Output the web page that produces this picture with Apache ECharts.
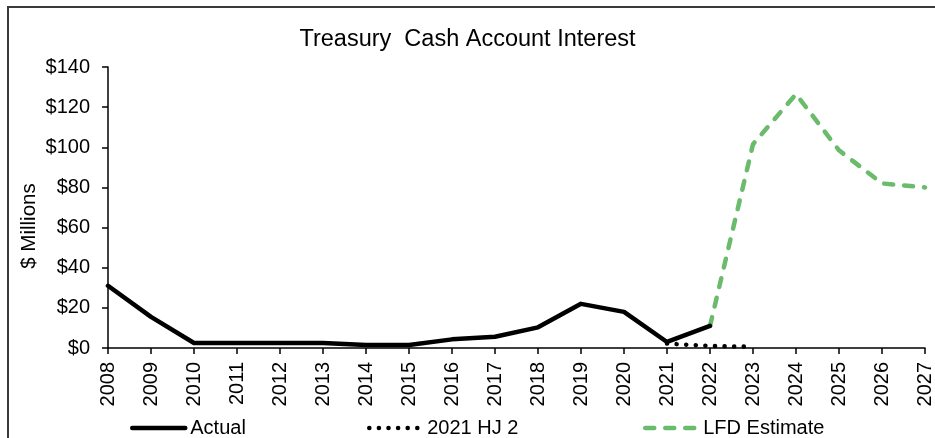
<!DOCTYPE html>
<html>
<head>
<meta charset="utf-8">
<script src="https://cdn.jsdelivr.net/npm/echarts@6/dist/echarts.min.js"></script>
<style>html,body{margin:0;padding:0;background:#fff}#c{width:935px;height:438px}</style>
</head>
<body>
<div id="c"></div>
<script>
var years = ['2008','2009','2010','2011','2012','2013','2014','2015','2016','2017','2018','2019','2020','2021','2022','2023','2024','2025','2026','2027'];
var actual = [31, 15.5, 2.5, 2.5, 2.5, 2.5, 1.5, 1.5, 4.3, 5.6, 10.3, 22, 18, 3, 11, null, null, null, null, null];
var hj2 = [null, null, null, null, null, null, null, null, null, null, null, null, null, 2.2, 1, 0.6, null, null, null, null];
var lfd = [null, null, null, null, null, null, null, null, null, null, null, null, null, null, 11, 101.5, 126.5, 98.5, 82, 80];
var yAxisTitle = '$ Millions';

var font = 'Liberation Sans, Arial, sans-serif';
var legendText = {fontFamily: font, fontSize: 20, color: '#000'};
function leg(name, left, ls) {
  return {data: [name], left: left, top: 418, padding: 0, itemWidth: 53, itemHeight: 20, itemGap: 0,
    textStyle: legendText, itemStyle: {opacity: 0}, lineStyle: ls};
}
var chart = echarts.init(document.getElementById('c'));
chart.setOption({
  animation: false,
  title: {
    text: 'Treasury  Cash Account Interest',
    left: 'center', top: 23,
    textStyle: {fontFamily: font, fontSize: 23.5, fontWeight: 'normal', color: '#000'}
  },
  graphic: [{
    type: 'rect', shape: {x: 8, y: 7, width: 1200, height: 1000},
    style: {fill: null, stroke: '#3a3a3a', lineWidth: 2}, silent: true
  }, {
    type: 'text', x: 29, y: 226, rotation: Math.PI / 2, silent: true,
    style: {text: yAxisTitle, fontFamily: font, fontSize: 20.5, fill: '#000', align: 'center', verticalAlign: 'middle'}
  }],
  legend: [
    leg('Actual', 130, {width: 4.5, cap: 'round'}),
    leg('2021 HJ 2', 367, {width: 4.5, type: [0.1, 9.5], cap: 'round'}),
    leg('LFD Estimate', 643, {width: 4.5, type: [9, 11], cap: 'round'})
  ],
  grid: {left: 108, right: 3, top: 67, bottom: 90, containLabel: false},
  xAxis: {
    type: 'category', data: years, boundaryGap: false,
    axisLine: {lineStyle: {color: '#000', width: 1.5}},
    axisTick: {show: true, length: 6, lineStyle: {color: '#000', width: 1.5}},
    axisLabel: {rotate: 90, interval: 0, margin: 14, fontFamily: font, fontSize: 20, color: '#000'}
  },
  yAxis: {
    type: 'value', min: 0, max: 140, interval: 20,
    splitLine: {show: false},
    axisLine: {show: true, lineStyle: {color: '#000', width: 1.5}},
    axisTick: {show: true, length: 6, lineStyle: {color: '#000', width: 1.5}},
    axisLabel: {formatter: function (v) { return '$' + v; }, margin: 18, fontFamily: font, fontSize: 20, color: '#000'}
  },
  series: [
    {name: 'Actual', type: 'line', data: actual, symbol: 'none',
     lineStyle: {color: '#000', width: 4.5, cap: 'round', join: 'round'}, itemStyle: {color: '#000'}, z: 3},
    {name: '2021 HJ 2', type: 'line', data: hj2, symbol: 'none',
     lineStyle: {color: '#000', width: 4.5, type: [0.1, 9.5], cap: 'round'}, itemStyle: {color: '#000'}, z: 2},
    {name: 'LFD Estimate', type: 'line', data: lfd, symbol: 'none',
     lineStyle: {color: '#6abb6c', width: 4.5, type: [9, 11], cap: 'round', join: 'round'}, itemStyle: {color: '#6abb6c'}, z: 2}
  ]
});
</script>
</body>
</html>
